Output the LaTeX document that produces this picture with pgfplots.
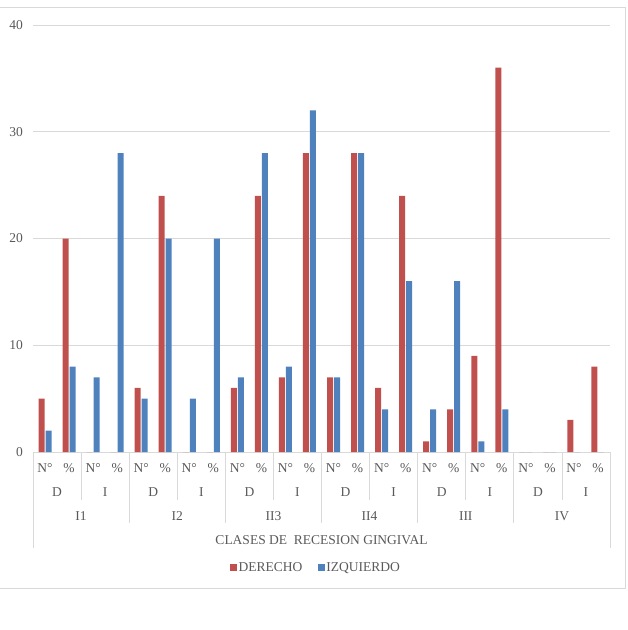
\documentclass[border=0pt]{standalone}
\usepackage{pgfplots}
\pgfplotsset{compat=1.18}
\usepackage{fontspec}
\setmainfont{Liberation Serif}
\definecolor{red1}{HTML}{C0504D}
\definecolor{blue1}{HTML}{4F81BD}
\definecolor{txt}{HTML}{595959}
\definecolor{grid1}{HTML}{D9D9D9}
\begin{document}
\begin{tikzpicture}[x=1pt,y=1pt,font=\fontsize{13.5}{16}\selectfont]
\useasboundingbox (-33,-178) rectangle (595,452);
\draw[grid1, line width=1pt] (-34,-136) rectangle (592,444);
\begin{axis}[
  at={(0,0)}, anchor=south west,
  scale only axis, width=577pt, height=427pt,
  xmin=-0.5, xmax=23.5, ymin=0, ymax=40,
  axis line style={draw=none},
  ymajorgrids, grid style={grid1, line width=0.8pt},
  ytick={0,10,20,30,40},
  xtick={0,...,23},
  xticklabels={N°,\%,N°,\%,N°,\%,N°,\%,N°,\%,N°,\%,N°,\%,N°,\%,N°,\%,N°,\%,N°,\%,N°,\%},
  major tick length=0pt,
  tick style={draw=none},
  /pgf/number format/assume math mode=true,
  yticklabel style={anchor=east, inner sep=0pt, xshift=-10pt, text=txt},
  xticklabel style={anchor=base, inner sep=0pt, yshift=-20pt, text=txt},
  clip=false,
  legend style={at={(0.49,-0.271)}, anchor=center, draw=none, fill=none,
    legend columns=2, text=txt, font=\fontsize{13.5}{16}\selectfont,
    /tikz/every even column/.append style={column sep=14pt},
    nodes={inner sep=1.5pt}},
  legend image code/.code={\fill[#1] (0pt,-3.5pt) rectangle (7pt,3.5pt);},
]
\addplot[ybar, bar width=6pt, bar shift=-3.5pt, fill=red1, draw=none] coordinates {
(0,5) (1,20) (2,0) (3,0) (4,6) (5,24) (6,0) (7,0) (8,6) (9,24) (10,7) (11,28)
(12,7) (13,28) (14,6) (15,24) (16,1) (17,4) (18,9) (19,36) (20,0) (21,0) (22,3) (23,8)};
\addlegendentry{DERECHO}
\addplot[ybar, bar width=6pt, bar shift=3.5pt, fill=blue1, draw=none] coordinates {
(0,2) (1,8) (2,7) (3,28) (4,5) (5,20) (6,5) (7,20) (8,7) (9,28) (10,8) (11,32)
(12,7) (13,28) (14,4) (15,16) (16,4) (17,16) (18,1) (19,4) (20,0) (21,0) (22,0) (23,0)};
\addlegendentry{IZQUIERDO}
% separators
\pgfplotsinvokeforeach{1,3,5,7,9,11}{\draw[grid1, line width=0.8pt] (axis cs:{2*#1-0.5},0) -- ++(0pt,-48pt);}
\pgfplotsinvokeforeach{2,4,6,8,10}{\draw[grid1, line width=0.8pt] (axis cs:{2*#1-0.5},0) -- ++(0pt,-71pt);}
\pgfplotsinvokeforeach{0,12}{\draw[grid1, line width=0.8pt] (axis cs:{2*#1-0.5},0) -- ++(0pt,-96pt);}
% side labels
\pgfplotsinvokeforeach{0,...,5}{
  \node[anchor=base, inner sep=0pt, text=txt, yshift=-44pt] at (axis cs:{4*#1+0.5},0) {D};
  \node[anchor=base, inner sep=0pt, text=txt, yshift=-44pt] at (axis cs:{4*#1+2.5},0) {I};
}
% group labels
\node[anchor=base, inner sep=0pt, text=txt, yshift=-68pt] at (axis cs:1.5,0) {I1};
\node[anchor=base, inner sep=0pt, text=txt, yshift=-68pt] at (axis cs:5.5,0) {I2};
\node[anchor=base, inner sep=0pt, text=txt, yshift=-68pt] at (axis cs:9.5,0) {II3};
\node[anchor=base, inner sep=0pt, text=txt, yshift=-68pt] at (axis cs:13.5,0) {II4};
\node[anchor=base, inner sep=0pt, text=txt, yshift=-68pt] at (axis cs:17.5,0) {III};
\node[anchor=base, inner sep=0pt, text=txt, yshift=-68pt] at (axis cs:21.5,0) {IV};
% title
\node[anchor=base, inner sep=0pt, text=txt, yshift=-92pt] at (axis cs:11.5,0) {CLASES DE\ \ RECESION GINGIVAL};
\end{axis}
\end{tikzpicture}
\end{document}
